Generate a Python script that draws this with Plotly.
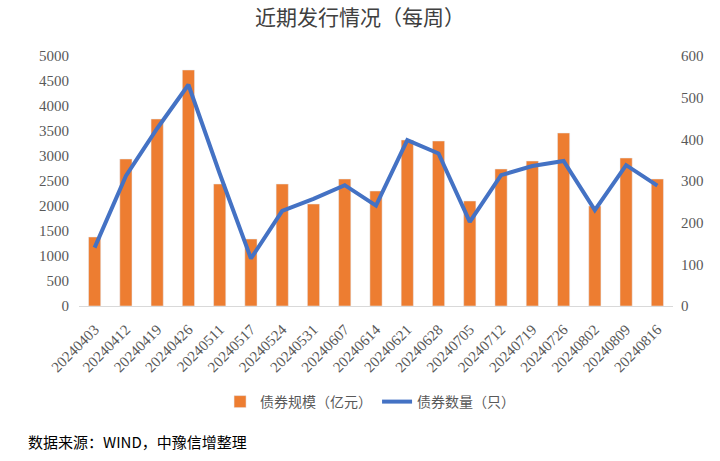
import plotly.graph_objects as go

dates = ["20240403", "20240412", "20240419", "20240426", "20240511", "20240517",
         "20240524", "20240531", "20240607", "20240614", "20240621", "20240628",
         "20240705", "20240712", "20240719", "20240726", "20240802", "20240809",
         "20240816"]
scale = [1380, 2940, 3740, 4720, 2440, 1340, 2440, 2040, 2540, 2300, 3320, 3300,
         2100, 2740, 2900, 3460, 2000, 2960, 2540]
count = [140, 312, 426, 531, 318, 114, 228, 257, 290, 241, 398, 366,
         202, 314, 336, 348, 230, 338, 289]

left_ticks = list(range(0, 5001, 500))
right_ticks = list(range(0, 601, 100))

tick_font = dict(family="Liberation Serif, Times New Roman, serif", size=15, color="#595959")
cjk = "Noto Sans CJK SC"

fig = go.Figure()
fig.add_trace(go.Bar(x=dates, y=scale, name="债券规模（亿元）", marker_color="#ED7D31",
                     yaxis="y"))
fig.add_trace(go.Scatter(x=dates, y=count, name="债券数量（只）", mode="lines",
                         line=dict(color="#4472C4", width=4), yaxis="y2"))

fig.update_layout(
    width=720, height=461,
    margin=dict(l=79, r=47, t=56, b=155),
    paper_bgcolor="white", plot_bgcolor="white",
    bargap=0.61,
    title=dict(text="近期发行情况（每周）", x=0.5, xanchor="center", y=0.962, yanchor="middle",
               font=dict(family=cjk, size=21, color="#404040")),
    xaxis=dict(type="category", tickangle=-45, tickfont=tick_font, showline=True,
               linecolor="#d9d9d9", linewidth=1, ticks="", showgrid=False,
               ticklabelstandoff=8),
    yaxis=dict(range=[0, 5000], tickvals=left_ticks, tickfont=tick_font, showgrid=False,
               zeroline=False, showline=False, ticks="", ticklabelstandoff=9),
    yaxis2=dict(range=[0, 600], tickvals=right_ticks, tickfont=tick_font, overlaying="y",
                side="right", showgrid=False, zeroline=False, showline=False,
                ticklabelstandoff=7),
    legend=dict(orientation="h", x=0.49, xanchor="center", y=-(402-306)/250, yanchor="middle",
                font=dict(family=cjk, size=14, color="#595959")),
    showlegend=True,
)

fig.add_annotation(text="数据来源：WIND，中豫信增整理", xref="paper", yref="paper",
                   x=-79/594, xanchor="left", y=-(441-306)/250, yanchor="middle",
                   xshift=26, showarrow=False,
                   font=dict(family=cjk, size=15, color="#000000"))

fig.write_html("out.html")
